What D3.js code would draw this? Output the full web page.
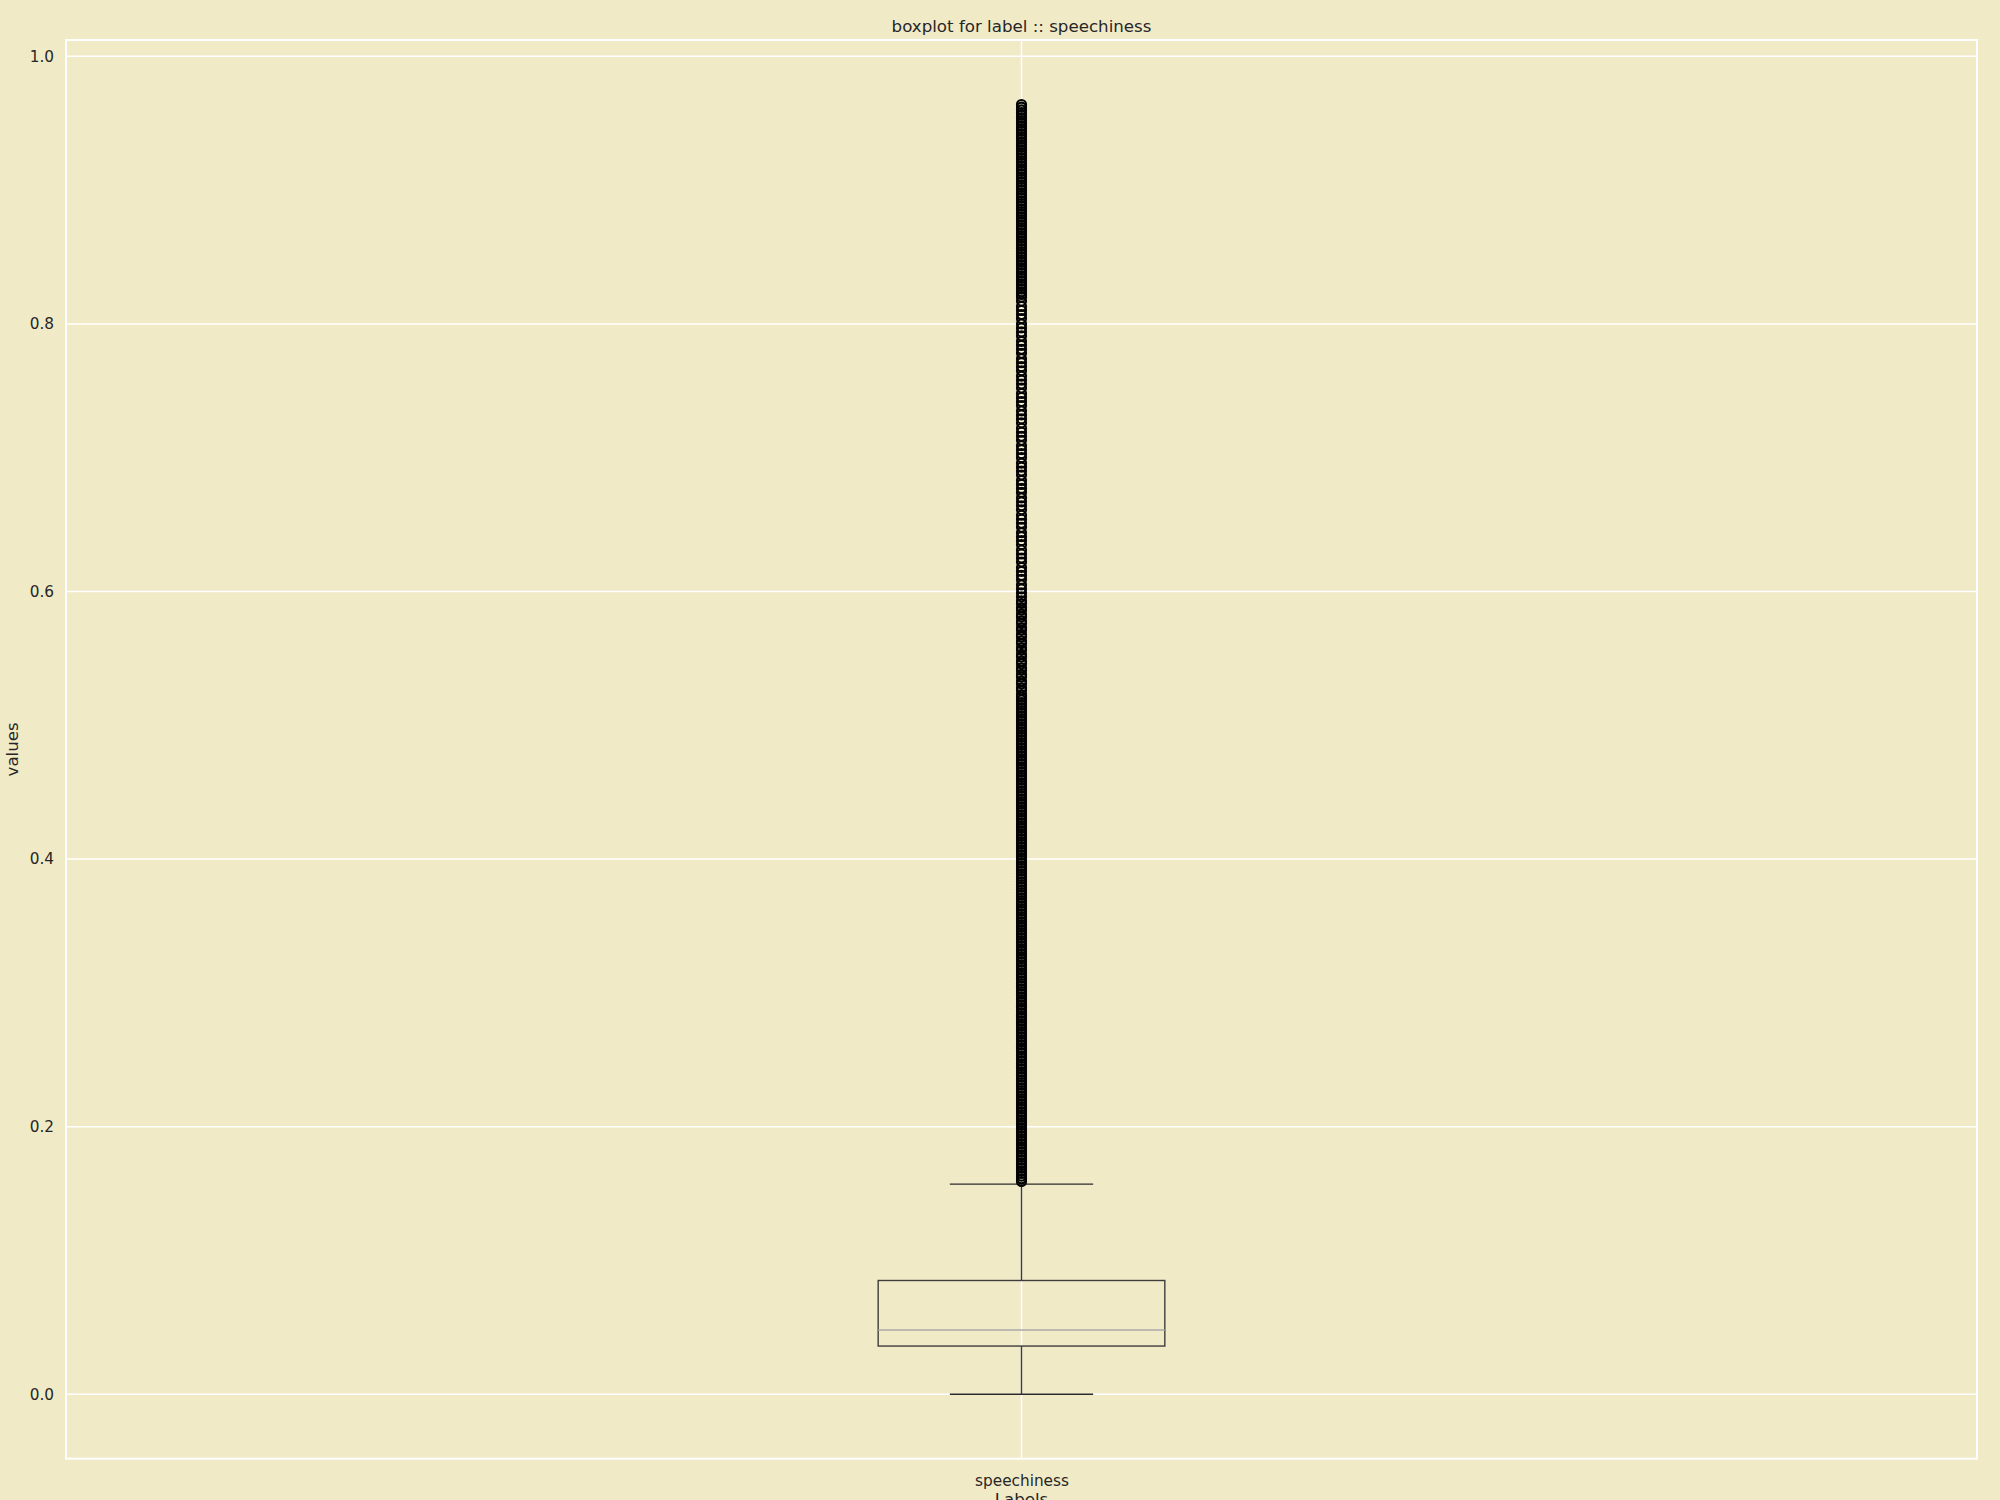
<!DOCTYPE html>
<html><head><meta charset="utf-8">
<script src="https://cdn.jsdelivr.net/npm/d3@7"></script>
<style>html,body{margin:0;padding:0;background:#f1eac6;}</style>
</head><body><svg id="chart" width="2000" height="1500"></svg>
<script>
// ---- data ----
const categories = ["speechiness"];
const whiskerLow = [0.0];
const q1 = [0.036];
const median = [0.048];
const q3 = [0.085];
const whiskerHigh = [0.157];
const yTicks = [0, 0.2, 0.4, 0.6, 0.8, 1.0];
const yTickLabels = ["0.0", "0.2", "0.4", "0.6", "0.8", "1.0"];
const titleText = "boxplot for label :: speechiness";
const xLabelText = "Labels";
const yLabelText = "values";
const outliers = [
0.159,0.161,0.163,0.165,0.167,0.169,0.171,0.173,0.175,0.177,0.179,
0.181,0.183,0.185,0.187,0.189,0.191,0.193,0.195,0.197,0.199,
0.201,0.203,0.205,0.207,0.209,0.211,0.213,0.215,0.217,0.219,
0.221,0.223,0.225,0.227,0.229,0.231,0.233,0.235,0.237,0.239,
0.241,0.243,0.245,0.247,0.249,0.251,0.253,0.255,0.257,0.259,
0.261,0.263,0.265,0.267,0.269,0.271,0.273,0.275,0.277,0.279,
0.281,0.283,0.285,0.287,0.289,0.291,0.293,0.295,0.297,0.299,
0.301,0.303,0.305,0.307,0.309,0.311,0.313,0.315,0.317,0.319,
0.321,0.323,0.325,0.327,0.329,0.331,0.333,0.335,0.337,0.339,
0.341,0.343,0.345,0.347,0.349,0.351,0.353,0.355,0.357,0.359,
0.361,0.363,0.365,0.367,0.369,0.371,0.373,0.375,0.377,0.379,
0.381,0.383,0.385,0.387,0.389,0.391,0.393,0.395,0.397,0.399,
0.401,0.403,0.405,0.407,0.409,0.411,0.413,0.415,0.417,0.419,
0.421,0.423,0.425,0.427,0.429,0.431,0.433,0.435,0.437,0.439,
0.441,0.443,0.445,0.447,0.449,0.451,0.453,0.455,0.457,0.459,
0.461,0.463,0.465,0.467,0.469,0.471,0.473,0.475,0.477,0.479,
0.481,0.483,0.485,0.487,0.489,0.491,0.493,0.495,0.497,0.499,
0.501,0.503,0.505,0.507,0.509,0.511,0.513,0.515,0.517,0.519,
0.521,0.523,0.526,0.528,0.531,0.533,0.536,0.538,0.541,0.543,
0.546,0.548,0.551,0.553,0.556,0.558,0.561,0.563,0.566,0.568,
0.571,0.573,0.576,0.578,0.581,0.583,0.586,0.588,0.591,0.593,0.596,
0.599,0.602,0.605,0.609,0.612,0.615,0.618,0.622,0.625,0.628,
0.631,0.635,0.638,0.641,0.644,0.648,0.651,0.654,0.657,0.661,
0.664,0.667,0.670,0.674,0.677,0.680,0.683,0.687,0.690,0.693,
0.696,0.700,0.703,0.706,0.709,0.713,0.716,0.719,0.722,0.726,
0.729,0.732,0.735,0.739,0.742,0.745,0.748,0.752,0.755,0.758,
0.761,0.765,0.768,0.771,0.774,0.778,0.781,0.784,0.787,0.791,
0.794,0.797,0.800,0.804,0.807,0.810,0.813,0.817,0.820,
0.822,0.824,0.826,0.828,0.830,0.832,0.834,0.836,0.838,0.840,
0.842,0.844,0.846,0.848,0.850,0.852,0.854,0.856,0.858,0.860,
0.862,0.864,0.866,0.868,0.870,0.872,0.874,0.876,0.878,0.880,
0.882,0.884,0.886,0.888,0.890,0.892,0.894,0.896,0.898,0.900,
0.902,0.904,0.906,0.908,0.910,0.912,0.914,0.916,0.918,0.920,
0.922,0.924,0.926,0.928,0.930,0.932,0.934,0.936,0.938,0.940,
0.942,0.944,0.946,0.948,0.950,0.952,0.954,0.956,0.958,0.960,
0.962,0.964
];

// ---- layout & style ----
const W = 2000, H = 1500;
const bg = "#f1eac6";
const textColor = "#262626";
const font = "'DejaVu Sans', sans-serif";
const plot = {left: 66, right: 1977, top: 40, bottom: 1458.7};

const svg = d3.select("#chart");
svg.append("rect").attr("width", W).attr("height", H).attr("fill", bg);

const x = d3.scaleLinear().domain([0.5, categories.length + 0.5]).range([plot.left, plot.right]);
const allVals = whiskerLow.concat(outliers, whiskerHigh);
const yMin = d3.min(allVals), yMax = d3.max(allVals);
const pad = (yMax - yMin) * 0.05;
const y = d3.scaleLinear().domain([yMin - pad, yMax + pad]).range([plot.bottom, plot.top]);

// grid
const grid = svg.append("g");
grid.selectAll("line.h").data(yTicks).join("line")
  .attr("x1", plot.left).attr("x2", plot.right)
  .attr("y1", d => y(d)).attr("y2", d => y(d))
  .attr("stroke", "#ffffff").attr("stroke-width", 1.5);
grid.selectAll("line.v").data(categories).join("line")
  .attr("x1", (d, i) => x(i + 1)).attr("x2", (d, i) => x(i + 1))
  .attr("y1", plot.top).attr("y2", plot.bottom)
  .attr("stroke", "#ffffff").attr("stroke-width", 1.5);

// spines
svg.append("rect").attr("x", plot.left).attr("y", plot.top)
  .attr("width", plot.right - plot.left).attr("height", plot.bottom - plot.top)
  .attr("fill", "none").attr("stroke", "#ffffff").attr("stroke-width", 2);

// axes
const yAxis = d3.axisLeft(y).tickValues(yTicks).tickFormat((d, i) => yTickLabels[i]).tickSize(0).tickPadding(12);
const gy = svg.append("g").attr("transform", `translate(${plot.left},0)`).call(yAxis);
gy.select(".domain").remove();
gy.selectAll("text").attr("font-family", font).attr("font-size", 15.3).attr("fill", textColor);

const xAxis = d3.axisBottom(x).tickValues(categories.map((d, i) => i + 1)).tickFormat((d, i) => categories[i]).tickSize(0).tickPadding(16);
const gx = svg.append("g").attr("transform", `translate(0,${plot.bottom})`).call(xAxis);
gx.select(".domain").remove();
gx.selectAll("text").attr("font-family", font).attr("font-size", 15.3).attr("fill", textColor);

// boxes
const boxW = 0.15, capW = 0.075;
const boxColor = "#3d3d3d";
const g = svg.append("g");
categories.forEach((c, i) => {
  const pos = i + 1;
  g.append("line").attr("x1", x(pos)).attr("x2", x(pos))
    .attr("y1", y(q1[i])).attr("y2", y(whiskerLow[i]))
    .attr("stroke", boxColor).attr("stroke-width", 1.4);
  g.append("line").attr("x1", x(pos)).attr("x2", x(pos))
    .attr("y1", y(q3[i])).attr("y2", y(whiskerHigh[i]))
    .attr("stroke", boxColor).attr("stroke-width", 1.4);
  [whiskerLow[i], whiskerHigh[i]].forEach(v => {
    g.append("line").attr("x1", x(pos - capW / 2)).attr("x2", x(pos + capW / 2))
      .attr("y1", y(v)).attr("y2", y(v))
      .attr("stroke", "#2a2a2a").attr("stroke-width", 1.4);
  });
  g.append("rect").attr("x", x(pos - boxW / 2)).attr("y", y(q3[i]))
    .attr("width", x(pos + boxW / 2) - x(pos - boxW / 2))
    .attr("height", y(q1[i]) - y(q3[i]))
    .attr("fill", "none").attr("stroke", boxColor).attr("stroke-width", 1.4);
  g.append("line").attr("x1", x(pos - boxW / 2)).attr("x2", x(pos + boxW / 2))
    .attr("y1", y(median[i])).attr("y2", y(median[i]))
    .attr("stroke", "#a9a9a9").attr("stroke-width", 1.4);
  g.append("g").selectAll("circle").data(outliers).join("circle")
    .attr("cx", x(pos)).attr("cy", d => y(d)).attr("r", 4.5)
    .attr("fill", "none").attr("stroke", "#000000").attr("stroke-width", 2.2);
});

// texts
svg.append("text").attr("x", (plot.left + plot.right) / 2).attr("y", 32)
  .attr("text-anchor", "middle").attr("font-family", font).attr("font-size", 16.67)
  .attr("fill", textColor).text(titleText);
svg.append("text").attr("x", (plot.left + plot.right) / 2).attr("y", 1505)
  .attr("text-anchor", "middle").attr("font-family", font).attr("font-size", 16.67)
  .attr("fill", textColor).text(xLabelText);
svg.append("text").attr("transform", `translate(18,${(plot.top + plot.bottom) / 2}) rotate(-90)`)
  .attr("text-anchor", "middle").attr("font-family", font).attr("font-size", 16.67)
  .attr("fill", textColor).text(yLabelText);
</script></body></html>
